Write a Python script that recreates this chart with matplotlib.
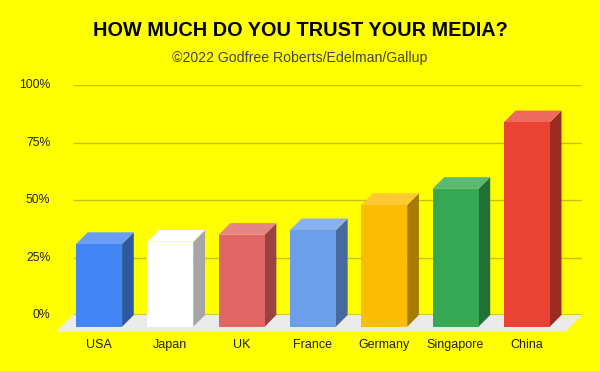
import matplotlib
matplotlib.use("Agg")
import matplotlib.pyplot as plt
from matplotlib.patches import Polygon
from matplotlib.transforms import IdentityTransform
import numpy as np

plt.rcParams['font.family'] = ['Liberation Sans', 'DejaVu Sans']

title = "HOW MUCH DO YOU TRUST YOUR MEDIA?"
subtitle = "\u00a92022 Godfree Roberts/Edelman/Gallup"
countries = ["USA", "Japan", "UK", "France", "Germany", "Singapore", "China"]
trust = [36, 37, 40, 42, 53, 60, 89]
yticks = [0, 25, 50, 75, 100]
ytick_labels = ["0%", "25%", "50%", "75%", "100%"]

front_colors = ["#4285f4", "#ffffff", "#e06666", "#6d9eeb", "#fbbc04", "#34a853", "#ea4335"]
side_colors = ["#2d59a3", "#a6a6a6", "#964444", "#48699e", "#a67c00", "#236f38", "#9c2b23"]
top_colors = ["#6a9df6", "#ffffff", "#e68585", "#8ab1ef", "#fcc934", "#5cb975", "#ee6a5e"]

BG = "#ffff00"
DPI = 100
fig = plt.figure(figsize=(6.0, 3.71), dpi=DPI, facecolor=BG)
W, H = 600, 371
# back plane axes
x0, x1 = 73, 582
yb0, yb100 = 315, 85.3
ax = fig.add_axes([x0 / W, (H - yb0) / H, (x1 - x0) / W, (yb0 - yb100) / H])
ax.set_facecolor("none")
ax.set_xlim(-0.53, 6.61)
ax.set_ylim(0, 100)
for s in ax.spines.values():
    s.set_visible(False)
ax.set_xticks([])
ax.set_yticks([])

BAR_D = 11.7   # bar depth in pixels
FLOOR_D = 16.5
bw = 0.645

def pt(x, y, d=0.0):
    px, py = ax.transData.transform((x, y))
    return (px - d, py - d)

# gridlines on back plane
for v in yticks[1:]:
    ax.plot([-0.53, 6.61], [v, v], color="#c2c21c", lw=1.0, zorder=1, solid_capstyle="butt")

# floor
xl, xr = ax.get_xlim()
floor = [pt(xl, 0), pt(xr, 0), pt(xr, 0, FLOOR_D), pt(xl, 0, FLOOR_D)]
fig.patches.append(Polygon(floor, closed=True, transform=IdentityTransform(),
                           facecolor="#ebebeb", edgecolor="none", zorder=1))
ax.plot([xl, xr], [0, 0], color="#000000", lw=1.0, zorder=2, solid_capstyle="butt")

# bars
xs = np.arange(len(countries))
for i, (xc, v) in enumerate(zip(xs, trust)):
    l, r = xc - bw / 2, xc + bw / 2
    front = [pt(l, 0, BAR_D), pt(r, 0, BAR_D), pt(r, v, BAR_D), pt(l, v, BAR_D)]
    side = [pt(r, 0, BAR_D), pt(r, 0), pt(r, v), pt(r, v, BAR_D)]
    top = [pt(l, v, BAR_D), pt(r, v, BAR_D), pt(r, v), pt(l, v)]
    for poly, col in ((side, side_colors[i]), (top, top_colors[i]), (front, front_colors[i])):
        fig.patches.append(Polygon(poly, closed=True, transform=IdentityTransform(),
                                   facecolor=col, edgecolor="none", zorder=3))
    # category label
    cx, cy = pt(xc, 0, BAR_D)
    fig.text(cx / W, (cy - 18) / H, countries[i], ha="center", va="center",
             fontsize=9, color="#222222")

# y tick labels
for v, lab in zip(yticks, ytick_labels):
    px, py = ax.transData.transform((xl, v))
    fig.text(50.5 / W, py / H, lab, ha="right", va="center", fontsize=8.8, color="#222222")

fig.text(0.5, (H - 30.5) / H, title, ha="center", va="center",
         fontsize=14.3, fontweight="bold", color="#000000")
fig.text(0.5, (H - 58) / H, subtitle, ha="center", va="center",
         fontsize=10.2, color="#444444")

fig.savefig("out.png", dpi=DPI, facecolor=BG)
